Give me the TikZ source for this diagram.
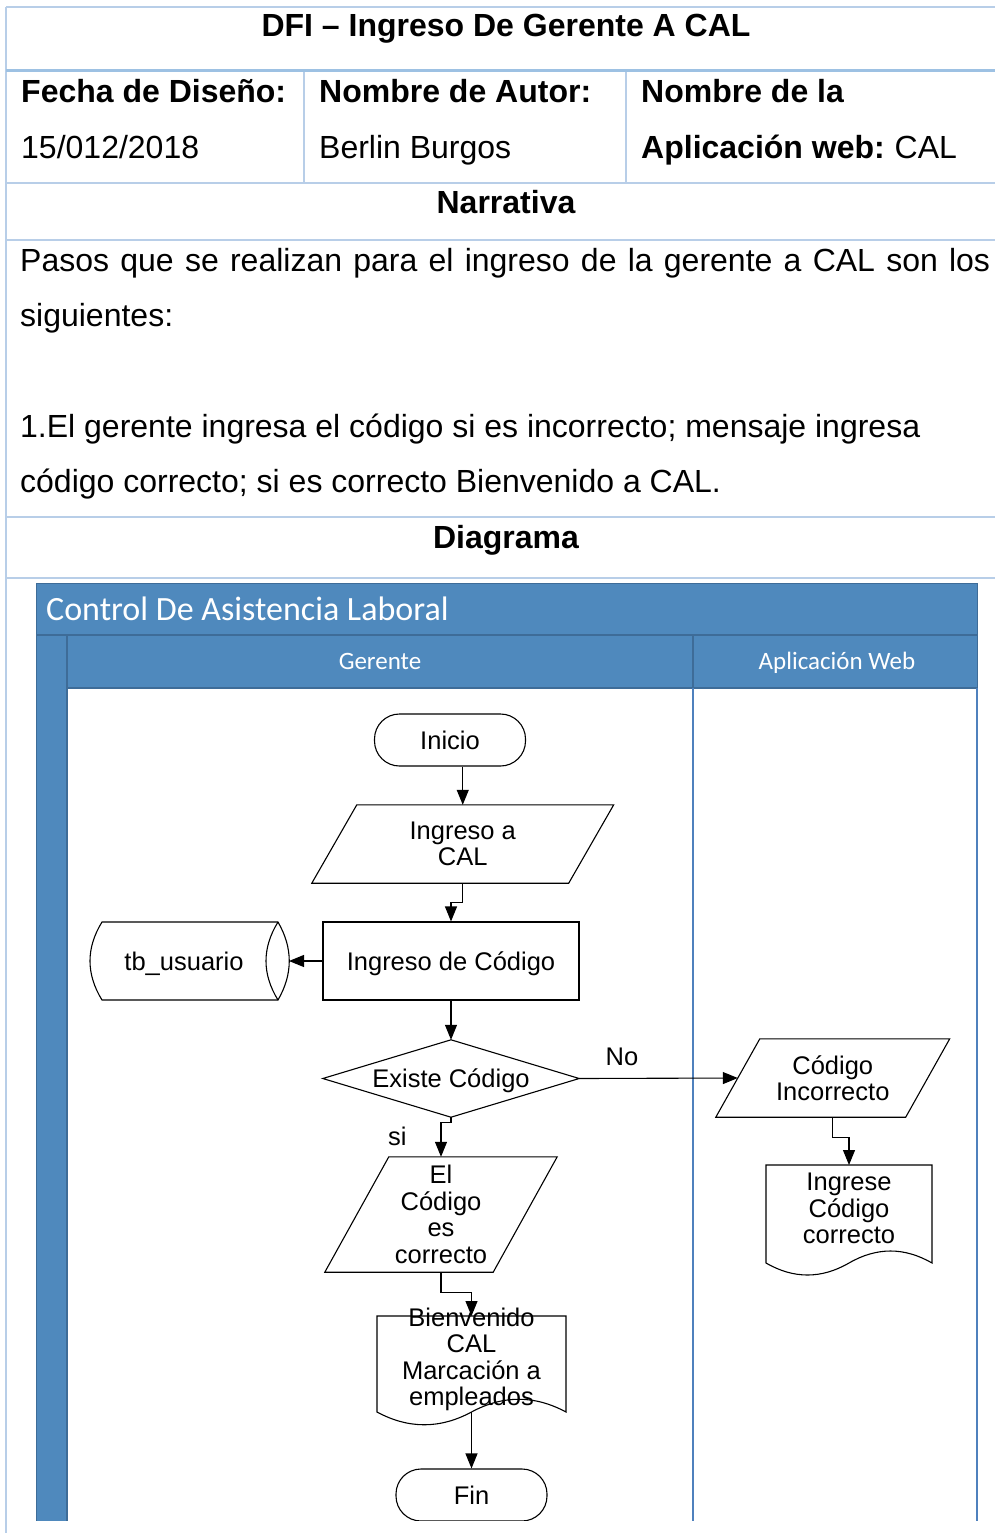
\documentclass[tikz,border=0pt]{standalone}
\usepackage{fontspec}
\setmainfont{Liberation Sans}
\newfontfamily\lanefont{Carlito}
\usetikzlibrary{arrows.meta,calc}
\definecolor{tblblue}{RGB}{184,206,232}
\definecolor{ruleblue}{RGB}{157,193,227}
\definecolor{poolblue}{RGB}{79,137,189}
\definecolor{pooledge}{RGB}{62,108,152}
\definecolor{laneline}{RGB}{79,129,189}
\begin{document}
\begin{tikzpicture}[x=1pt,y=-1pt,
  tblrule/.style={draw=tblblue,line width=2pt},
  hdr/.style={font=\fontsize{32}{36}\selectfont\bfseries,inner sep=0pt},
  body/.style={font=\fontsize{32}{36}\selectfont,inner sep=0pt},
  fc/.style={font=\fontsize{25.5}{26.5}\selectfont,inner sep=0pt,align=center},
  shp/.style={draw=black,line width=1.1pt},
  arr/.style={line width=1.1pt,-{Triangle[length=15pt,width=12pt]}},
  lanehead/.style={font=\lanefont\fontsize{25}{28}\selectfont,text=white,inner sep=0pt},
  term/.style={fc,shp,rounded corners=25pt,minimum width=151pt,minimum height=52pt}
]
\useasboundingbox (0,0) rectangle (995,1533);
\fill[white] (0,0) rectangle (995,1533);

% ---------- form table ----------
\draw[tblrule] (6,7) -- (995,7);
\draw[tblrule] (6,7) -- (6,1533);
\draw[draw=ruleblue,line width=3.5pt] (6,70.5) -- (995,70.5);
\draw[tblrule] (304,72) -- (304,183);
\draw[tblrule] (626,72) -- (626,183);
\draw[tblrule] (6,183) -- (995,183);
\draw[tblrule] (6,240) -- (995,240);
\draw[tblrule] (6,517) -- (995,517);
\draw[tblrule] (6,578) -- (995,578);

\node[hdr,anchor=base] (title) at (506,37) {DFI – Ingreso De Gerente A CAL};
\node[hdr,anchor=base west] (fecha) at (21,103) {Fecha de Diseño:};
\node[body,anchor=base west] (fechav) at (21,159) {15/012/2018};
\node[hdr,anchor=base west] (autor) at (319,103) {Nombre de Autor:};
\node[body,anchor=base west] (autorv) at (319,159) {Berlin Burgos};
\node[hdr,anchor=base west] (app) at (641,103) {Nombre de la};
\node[body,anchor=base west] (appv) at (641,159) {{\bfseries Aplicación web:}\hspace{-2pt} CAL};
\node[hdr,anchor=base] (narr) at (506,214) {Narrativa};
\node[body,anchor=base west] (p1) at (20,271) {\makebox[970pt][s]{Pasos que se realizan para el ingreso de la gerente a CAL son los}};
\node[body,anchor=base west] (p2) at (20,326) {siguientes:};
\node[body,anchor=base west] (p3) at (20,437) {1.El gerente ingresa el código si es incorrecto; mensaje ingresa};
\node[body,anchor=base west] (p4) at (20,492) {código correcto; si es correcto Bienvenido a CAL.};
\node[hdr,anchor=base] (diag) at (506,548) {Diagrama};

% ---------- swimlane pool ----------
\begin{scope}
\clip (0,0) rectangle (995,1520);
\fill[poolblue] (36,583) rectangle (977,1530);
\fill[white] (68,688) rectangle (976,1530);
\draw[pooledge,line width=1pt] (36,583) rectangle (977,1530);
\draw[pooledge,line width=1.5pt] (36,635) -- (977,635);
\draw[pooledge,line width=1.5pt] (67,635) -- (67,1530);
\draw[pooledge,line width=1.5pt] (67,688) -- (977,688);
\draw[pooledge,line width=1.2pt] (693,635) -- (693,688);
\draw[laneline,line width=1.5pt] (693,688) -- (693,1530);
\draw[laneline,line width=1.5pt] (977,688) -- (977,1530);

\node[font=\lanefont\fontsize{34}{40}\selectfont,text=white,anchor=base west,inner sep=0pt] (pool) at (46,620) {Control De Asistencia Laboral};
\node[lanehead,anchor=base] (lane1) at (380,669) {Gerente};
\node[lanehead,anchor=base] (lane2) at (837,669) {Aplicación Web};

% ---------- flowchart ----------
\node[term] (ini) at (450,740) {Inicio};

\node[fc,minimum width=256.5pt,minimum height=78pt] (ing) at (462.75,844) {Ingreso a\\CAL};
\draw[shp] ($(ing.north west)+(22.5,0)$) -- ($(ing.north east)+(22.5,0)$) -- ($(ing.south east)+(-22.5,0)$) -- ($(ing.south west)+(-22.5,0)$) -- cycle;

\node[fc,shp,text depth=0pt,minimum width=256pt,minimum height=78pt] (cod) at (451,961) {Ingreso de Código};

% stored data
\node[fc] (tb) at (184,963.5) {tb\_usuario};
\path (tb.center) ++(-82,-41.5) coordinate (tbA) ++(176,0) coordinate (tbB) ++(0,78) coordinate (tbC) ++(-176,0) coordinate (tbD);
\draw[shp] (tbA) -- (tbB) .. controls +(15,26) and +(15,-26) .. (tbC) -- (tbD) .. controls +(-16,-26) and +(-16,26) .. (tbA) -- cycle;
\draw[shp] (tbB) .. controls +(-16,26) and +(-16,-26) .. (tbC);
\coordinate (tbR) at ($(tbB)!0.5!(tbC)+(11,0)$);

% decision
\node[fc,text depth=0pt,minimum width=256pt,minimum height=77pt] (dec) at (451,1078.5) {Existe Código};
\draw[shp] (dec.north) -- (dec.east) -- (dec.south) -- (dec.west) -- cycle;

\node[fc,minimum width=189.5pt,minimum height=78pt] (inc) at (832.75,1078) {Código\\Incorrecto};
\draw[shp] ($(inc.north west)+(22,0)$) -- ($(inc.north east)+(22,0)$) -- ($(inc.south east)+(-22,0)$) -- ($(inc.south west)+(-22,0)$) -- cycle;

\node[fc,minimum width=168pt,minimum height=115pt] (ok) at (441,1214.5) {El\\Código\\es\\correcto};
\draw[shp] ($(ok.north west)+(32,0)$) -- ($(ok.north east)+(32,0)$) -- ($(ok.south east)+(-32,0)$) -- ($(ok.south west)+(-32,0)$) -- cycle;

% documents
\node[fc] (msg) at (849,1208.5) {Ingrese\\Código\\correcto};
\path (msg.center) ++(-83,-43.5) coordinate (msgA) ++(166,0) coordinate (msgB) ++(0,98) coordinate (msgC) ++(-166,0) coordinate (msgD);
\coordinate (msgT) at ($(msgA)!0.5!(msgB)$);
\draw[shp] (msgC) -- (msgB) -- (msgA) -- (msgD) .. controls +(27.7,16) and +(-27.7,16) .. ($(msgD)!0.5!(msgC)$) .. controls +(27.7,-16) and +(-27.7,-16) .. (msgC) -- cycle;

\node[fc] (bien) at (471.5,1359.5) {Bienvenido\\CAL\\Marcación a\\empleados};
\path (bien.center) ++(-94.5,-43.5) coordinate (bienA) ++(189,0) coordinate (bienB) ++(0,96) coordinate (bienC) ++(-189,0) coordinate (bienD);
\coordinate (bienT) at ($(bienA)!0.5!(bienB)$);
\coordinate (bienW) at ($(bienD)!0.5!(bienC)$);
\draw[shp] (bienC) -- (bienB) -- (bienA) -- (bienD) .. controls +(31.5,17) and +(-31.5,17) .. (bienW) .. controls +(31.5,-17) and +(-31.5,-17) .. (bienC) -- cycle;

\node[term] (fin) at (471.5,1495) {Fin};

% connectors
\draw[arr] (ini.south -| ing.north) -- (ing.north);
\draw[arr] (ing.south) -- ++(0,19.5) -| (cod.north);
\draw[arr] (cod.west) -- (tbR);
\draw[arr] (cod.south) -- (dec.north);
\draw[arr] (dec.east) -- node[fc,pos=0.27,anchor=south,yshift=12pt] (no) {No} (inc.west);
\draw[arr] (dec.south) -- ++(0,5) -| node[fc,pos=0.75,left=34pt,yshift=3pt] (si) {si} (ok.north);
\draw[arr] (inc.south) -- ++(0,20) -| (msgT);
\draw[arr] (ok.south) -- ++(0,20) -| (bienT);
\draw[arr] (bienW) -- (fin.north);
\end{scope}
\end{tikzpicture}
\end{document}
